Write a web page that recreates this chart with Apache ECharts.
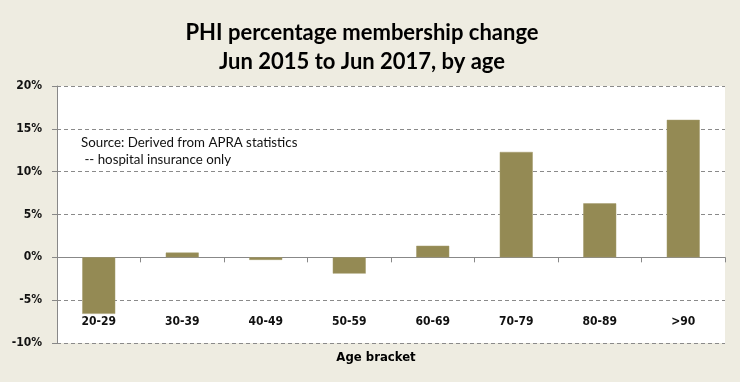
<!DOCTYPE html>
<html><head><meta charset="utf-8">
<script src="https://cdn.jsdelivr.net/npm/echarts@6/dist/echarts.min.js"></script>
<style>html,body{margin:0;padding:0;background:#EEECE1;}#c{width:740px;height:382px;}</style>
</head><body><div id="c"></div>
<script>
const categories = ['20-29','30-39','40-49','50-59','60-69','70-79','80-89','>90'];
const changePct = [-6.6, 0.55, -0.3, -1.9, 1.35, 12.3, 6.3, 16.05];
const yTicks = {min: -10, max: 20, interval: 5};
const titleLines = ['PHI percentage membership change', 'Jun 2015 to Jun 2017, by age'];
const sourceLines = ['Source: Derived from APRA statistics', ' -- hospital insurance only'];
const xAxisName = 'Age bracket';

const chart = echarts.init(document.getElementById('c'), null, {renderer: 'canvas'});
const lblFont = {fontFamily: 'DejaVu Sans Condensed', fontWeight: 'bold', fontSize: 12, color: '#111'};
chart.setOption({
  backgroundColor: '#EEECE1',
  animation: false,
  title: {
    text: titleLines.join('\n'),
    left: 357, top: 13, textAlign: 'center',
    textStyle: {fontFamily: 'Lato', fontWeight: 'bold', fontSize: 22, lineHeight: 29, color: '#000'}
  },
  grid: {left: 57, right: 15, top: 86, bottom: 39, show: true, backgroundColor: '#fff', borderWidth: 0},
  xAxis: [{
    type: 'category', data: categories,
    axisLine: {onZero: true, lineStyle: {color: '#888', width: 1}},
    axisTick: {show: true, length: 5, alignWithLabel: false, lineStyle: {color: '#888'}},
    axisLabel: {show: false}
  }, {
    type: 'category', data: categories, position: 'bottom',
    axisLine: {show: false, onZero: false}, axisTick: {show: false},
    axisLabel: Object.assign({inside: true, margin: 15}, lblFont)
  }],
  yAxis: {
    type: 'value', min: yTicks.min, max: yTicks.max, interval: yTicks.interval,
    axisLine: {show: true, lineStyle: {color: '#888'}},
    axisTick: {show: true, length: 5, lineStyle: {color: '#888'}},
    axisLabel: Object.assign({formatter: '{value}%', margin: 15}, lblFont),
    splitLine: {lineStyle: {type: [4, 3], color: '#8a8a8a', width: 1}}
  },
  series: [{
    type: 'bar', data: changePct, barWidth: 33, xAxisIndex: 0,
    itemStyle: {color: '#948A54', borderColor: '#A39A6A', borderWidth: 0.5}
  }],
  graphic: [{
    type: 'text', left: 81, top: 134,
    style: {text: sourceLines.join('\n'), font: '13.3px Lato', lineHeight: 17, fill: '#111'}
  }, {
    type: 'text', x: 376, y: 358,
    style: {text: xAxisName, font: 'bold 13px "DejaVu Sans Condensed"', fill: '#000', align: 'center', verticalAlign: 'middle'}
  }]
});
</script></body></html>
